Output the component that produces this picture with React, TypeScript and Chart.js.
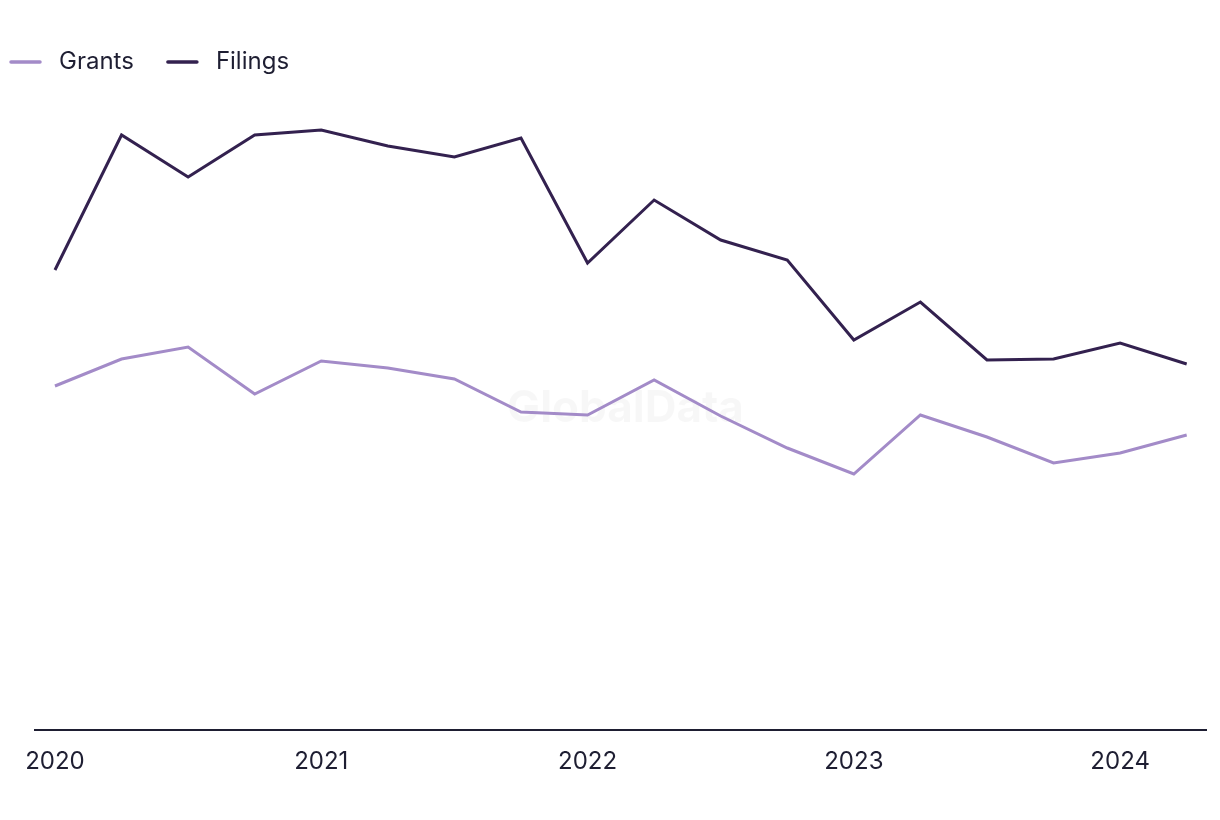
import React, { useEffect, useRef } from "react";
import { Chart, registerables } from "chart.js";

Chart.register(...registerables);

const quarters = [
  "Q1 2020", "Q2 2020", "Q3 2020", "Q4 2020",
  "Q1 2021", "Q2 2021", "Q3 2021", "Q4 2021",
  "Q1 2022", "Q2 2022", "Q3 2022", "Q4 2022",
  "Q1 2023", "Q2 2023", "Q3 2023", "Q4 2023",
  "Q1 2024", "Q2 2024",
];
const yearTickIndex = [0, 4, 8, 12, 16];
const yearTickLabels = ["2020", "2021", "2022", "2023", "2024"];

const filings = [460, 595, 553, 595, 600, 584, 573, 592, 467, 530, 490, 470, 390, 428, 370, 371, 387, 366];
const grants = [344, 371, 383, 336, 369, 362, 351, 318, 315, 350, 314, 282, 256, 315, 293, 267, 277, 295];

const GRANTS_COLOR = "#a38bc8";
const FILINGS_COLOR = "#33214f";
const TEXT_COLOR = "#1e1e32";
const FONT = "Inter, 'Noto Sans', sans-serif";

const legendPlugin = {
  id: "customLegend",
  afterDraw(chart: any) {
    const ctx = chart.ctx;
    ctx.save();
    ctx.font = `24px ${FONT}`;
    ctx.textBaseline = "middle";
    const y = 62;
    let x = 10;
    chart.data.datasets.forEach((ds: any) => {
      ctx.strokeStyle = ds.borderColor;
      ctx.lineWidth = 3.5;
      ctx.lineCap = "round";
      ctx.beginPath();
      ctx.moveTo(x + 1, y);
      ctx.lineTo(x + 30, y);
      ctx.stroke();
      ctx.fillStyle = TEXT_COLOR;
      ctx.fillText(ds.label, x + 49, y);
      x = x + 49 + ctx.measureText(ds.label).width + 33;
    });
    ctx.restore();
  },
};

const watermarkPlugin = {
  id: "watermark",
  beforeDatasetsDraw(chart: any) {
    const ctx = chart.ctx;
    const { left, right, top, bottom } = chart.chartArea;
    ctx.save();
    ctx.font = `bold 44px ${FONT}`;
    ctx.fillStyle = "rgba(0,0,0,0.03)";
    ctx.textAlign = "center";
    ctx.textBaseline = "middle";
    ctx.fillText("GlobalData", (left + right) / 2 + 5, top + (bottom - top) * 0.49);
    ctx.restore();
  },
};

export default function App() {
  const ref = useRef<HTMLCanvasElement | null>(null);
  useEffect(() => {
    if (!ref.current) return;
    const chart = new Chart(ref.current, {
      type: "line",
      data: {
        datasets: [
          {
            label: "Grants",
            data: grants.map((v, i) => ({ x: i, y: v })),
            borderColor: GRANTS_COLOR,
            backgroundColor: GRANTS_COLOR,
            borderWidth: 3,
            pointRadius: 0,
            tension: 0,
          },
          {
            label: "Filings",
            data: filings.map((v, i) => ({ x: i, y: v })),
            borderColor: FILINGS_COLOR,
            backgroundColor: FILINGS_COLOR,
            borderWidth: 3,
            pointRadius: 0,
            tension: 0,
          },
        ],
      },
      options: {
        animation: false,
        responsive: false,
        maintainAspectRatio: false,
        layout: { padding: { top: 100, left: 35, right: 14, bottom: 0 } },
        plugins: {
          legend: { display: false },
          tooltip: { enabled: false },
        },
        scales: {
          x: {
            type: "linear",
            min: -0.3,
            max: quarters.length - 1 + 0.29,
            grid: { display: false },
            border: { display: true, color: TEXT_COLOR, width: 2 },
            afterBuildTicks: (scale: any) => {
              scale.ticks = yearTickIndex.map((v) => ({ value: v }));
            },
            afterFit: (scale: any) => {
              scale.height = 90;
            },
            ticks: {
              autoSkip: false,
              maxRotation: 0,
              padding: 9,
              color: TEXT_COLOR,
              font: { size: 24, family: FONT },
              callback: (value: any) => {
                const idx = yearTickIndex.indexOf(Number(value));
                return idx >= 0 ? yearTickLabels[idx] : "";
              },
            },
          },
          y: {
            display: false,
            min: 0,
            max: 630,
          },
        },
      },
      plugins: [legendPlugin, watermarkPlugin],
    });
    return () => chart.destroy();
  }, []);
  return (
    <div style={{ position: "fixed", top: 0, left: 0, width: 1220, height: 820, background: "#fff" }}>
      <canvas ref={ref} width={1220} height={820} style={{ display: "block" }} />
    </div>
  );
}
